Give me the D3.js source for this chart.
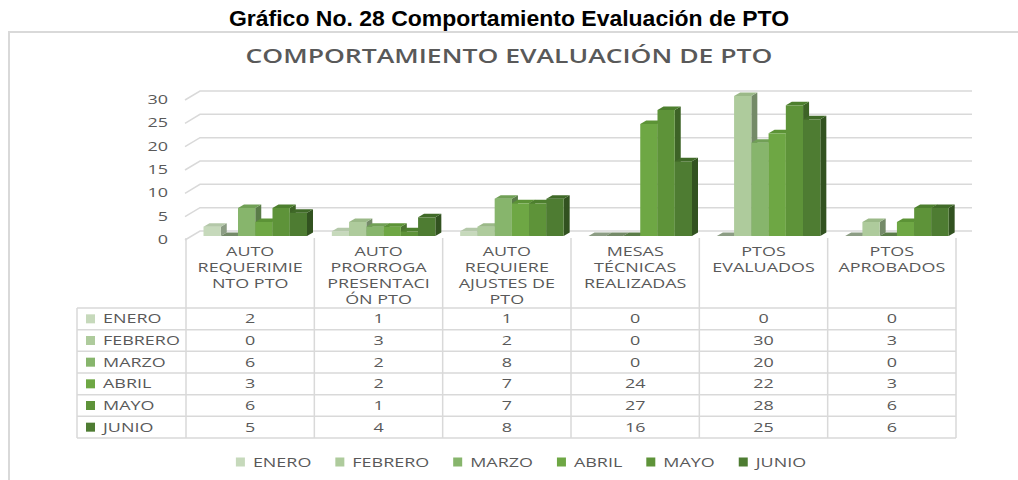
<!DOCTYPE html>
<html>
<head>
<meta charset="utf-8">
<script src="https://cdn.jsdelivr.net/npm/d3@7"></script>
<style>
body { margin: 0; background: #fff; }
svg { display: block; }
</style>
</head>
<body>
<script>
// data
var categories = ["AUTO REQUERIMIENTO PTO", "AUTO PRORROGA PRESENTACIÓN PTO", "AUTO REQUIERE AJUSTES DE PTO",
    "MESAS TÉCNICAS REALIZADAS", "PTOS EVALUADOS", "PTOS APROBADOS"];
var categoryLines = [
    ["AUTO", "REQUERIMIE", "NTO PTO"],
    ["AUTO", "PRORROGA", "PRESENTACI", "ÓN PTO"],
    ["AUTO", "REQUIERE", "AJUSTES DE", "PTO"],
    ["MESAS", "TÉCNICAS", "REALIZADAS"],
    ["PTOS", "EVALUADOS"],
    ["PTOS", "APROBADOS"]
];
var months = ["ENERO", "FEBRERO", "MARZO", "ABRIL", "MAYO", "JUNIO"];
var enero   = [2, 1, 1, 0, 0, 0];
var febrero = [0, 3, 2, 0, 30, 3];
var marzo   = [6, 2, 8, 0, 20, 0];
var abril   = [3, 2, 7, 24, 22, 3];
var mayo    = [6, 1, 7, 27, 28, 6];
var junio   = [5, 4, 8, 16, 25, 6];
var yTicks = [0, 5, 10, 15, 20, 25, 30];

var seriesValues = [enero, febrero, marzo, abril, mayo, junio];

var frontColor = ["#c6d9bb", "#aecb9c", "#87b56c", "#6ea744", "#5e9339", "#4e7c32"];
var topColor   = ["#b4c8a9", "#9bb988", "#71a056", "#5c9336", "#4d7f2e", "#406a28"];
var sideColor  = ["#8c9d84", "#748a68", "#5a7c48", "#4b7330", "#3d6326", "#325220"];

var W = 1018, H = 480;
var sx = 1.38;          // the picture is stretched sideways
var txtFont = "'Open Sans', sans-serif";
var txtColor = "#595959";
var lineColor = "#d9d9d9";
var dx = 6, dy = 3.5;   // depth of the 3d columns

var svg = d3.select("body").append("svg")
    .attr("width", W)
    .attr("height", H);

function stretchText(g, x, y, str, anchor, size) {
    return g.append("text")
        .attr("transform", "translate(" + x + "," + y + ") scale(" + sx + ",1)")
        .attr("text-anchor", anchor)
        .attr("dy", "0.35em")
        .attr("font-family", txtFont)
        .attr("font-size", size || 13)
        .attr("fill", txtColor)
        .text(str);
}

// heading above the frame
svg.append("text")
    .attr("x", 509)
    .attr("y", 26)
    .attr("text-anchor", "middle")
    .attr("font-family", "'Liberation Sans', Arial, sans-serif")
    .attr("font-weight", "bold")
    .attr("font-size", 22)
    .attr("textLength", 560)
    .attr("lengthAdjust", "spacingAndGlyphs")
    .text("Gráfico No. 28 Comportamiento Evaluación de PTO");

// chart frame (only top and left are visible)
svg.append("path")
    .attr("d", "M9,480 V32 H1018")
    .attr("fill", "none")
    .attr("stroke", lineColor)
    .attr("stroke-width", 2);

svg.append("text")
    .attr("x", 509)
    .attr("y", 63)
    .attr("text-anchor", "middle")
    .attr("font-family", txtFont)
    .attr("font-weight", 600)
    .attr("font-size", 19)
    .attr("fill", txtColor)
    .attr("textLength", 527)
    .attr("lengthAdjust", "spacingAndGlyphs")
    .text("COMPORTAMIENTO EVALUACIÓN DE PTO");

// scales
var x = d3.scaleBand()
    .domain(categories)
    .range([186, 956]);

var xInner = d3.scaleBand()
    .domain(months)
    .range([17.5, 121]);

var y = d3.scaleLinear()
    .domain([0, 30])
    .range([236, 96]);

// gridlines on the back wall
svg.append("g")
    .selectAll("path")
    .data(yTicks)
    .enter()
    .append("path")
    .attr("d", d => "M185," + (y(d) + 4) + " L200," + (y(d) - 5) + " H972")
    .attr("fill", "none")
    .attr("stroke", lineColor)
    .attr("stroke-width", 1.5);

// y axis labels
var yAxisG = svg.append("g")
    .attr("transform", "translate(168,3)")
    .call(d3.axisLeft(y).tickValues(yTicks).tickSize(0).tickPadding(0));
yAxisG.select(".domain").remove();
yAxisG.selectAll(".tick text")
    .attr("x", 0)
    .attr("dy", "0.35em")
    .attr("transform", "scale(" + sx + ",1)")
    .attr("font-family", txtFont)
    .attr("font-size", 13)
    .attr("fill", txtColor)
    .attr("text-anchor", "end");

// 3d columns
var bars = [];
categories.forEach(function (c, ci) {
    months.forEach(function (m, mi) {
        bars.push({cat: c, month: m, mi: mi, value: seriesValues[mi][ci]});
    });
});

var barG = svg.append("g");
var bw = xInner.bandwidth();
var y0 = y(0);
bars.forEach(function (d) {
    var x0 = x(d.cat) + xInner(d.month);
    var x1 = x0 + bw;
    var yv = y(d.value);
    // side
    barG.append("path")
        .attr("d", "M" + x1 + "," + yv + " L" + (x1 + dx) + "," + (yv - dy) +
            " L" + (x1 + dx) + "," + (y0 - dy) + " L" + x1 + "," + y0 + "Z")
        .attr("fill", sideColor[d.mi]);
    // front
    barG.append("rect")
        .attr("x", x0)
        .attr("y", yv)
        .attr("width", bw)
        .attr("height", y0 - yv)
        .attr("fill", frontColor[d.mi]);
    // top
    barG.append("path")
        .attr("d", "M" + x0 + "," + yv + " L" + (x0 + dx) + "," + (yv - dy) +
            " L" + (x1 + dx) + "," + (yv - dy) + " L" + x1 + "," + yv + "Z")
        .attr("fill", d.value == 0 ? sideColor[d.mi] : topColor[d.mi]);
});

// data table
var rowY = d3.scaleBand()
    .domain(months)
    .range([308, 438]);

var tableG = svg.append("g");

// column lines
x.domain().concat(["end"]).forEach(function (c, i) {
    var xx = i < categories.length ? x(c) : x.range()[1];
    tableG.append("line")
        .attr("x1", xx).attr("x2", xx)
        .attr("y1", 238).attr("y2", 438)
        .attr("stroke", lineColor)
        .attr("stroke-width", 1.5);
});
// row lines
months.concat(["end"]).forEach(function (m, i) {
    var yy = i < months.length ? rowY(m) : rowY.range()[1];
    tableG.append("line")
        .attr("x1", 77).attr("x2", 956)
        .attr("y1", yy).attr("y2", yy)
        .attr("stroke", lineColor)
        .attr("stroke-width", 1.5);
});
tableG.append("line")
    .attr("x1", 77).attr("x2", 77)
    .attr("y1", 308).attr("y2", 438)
    .attr("stroke", lineColor)
    .attr("stroke-width", 1.5);

// header text
categoryLines.forEach(function (lines, ci) {
    var cx = x(categories[ci]) + x.bandwidth() / 2;
    lines.forEach(function (l, li) {
        stretchText(tableG, cx, 251 + li * 16.3, l, "middle");
    });
});

// row keys, labels and values
months.forEach(function (m, mi) {
    var cy = rowY(m) + rowY.bandwidth() / 2;
    tableG.append("rect")
        .attr("x", 86).attr("y", cy - 4.5)
        .attr("width", 9).attr("height", 9)
        .attr("fill", frontColor[mi]);
    stretchText(tableG, 103, cy, m, "start");
    categories.forEach(function (c, ci) {
        stretchText(tableG, x(c) + x.bandwidth() / 2, cy, seriesValues[mi][ci], "middle");
    });
});

// legend at bottom
var legendG = svg.append("g");
var lx = 0;
months.forEach(function (m, mi) {
    var it = legendG.append("g");
    it.append("rect")
        .attr("x", 0).attr("y", -4.5)
        .attr("width", 9).attr("height", 9)
        .attr("fill", frontColor[mi]);
    var t = stretchText(it, 17, 0, m, "start");
    var tw = t.node().getComputedTextLength() * sx;
    it.attr("transform", "translate(" + lx + ",462)");
    lx += 17 + tw + 24;
});
lx -= 24;
legendG.attr("transform", "translate(" + (521 - lx / 2) + ",0)");
</script>
</body>
</html>
